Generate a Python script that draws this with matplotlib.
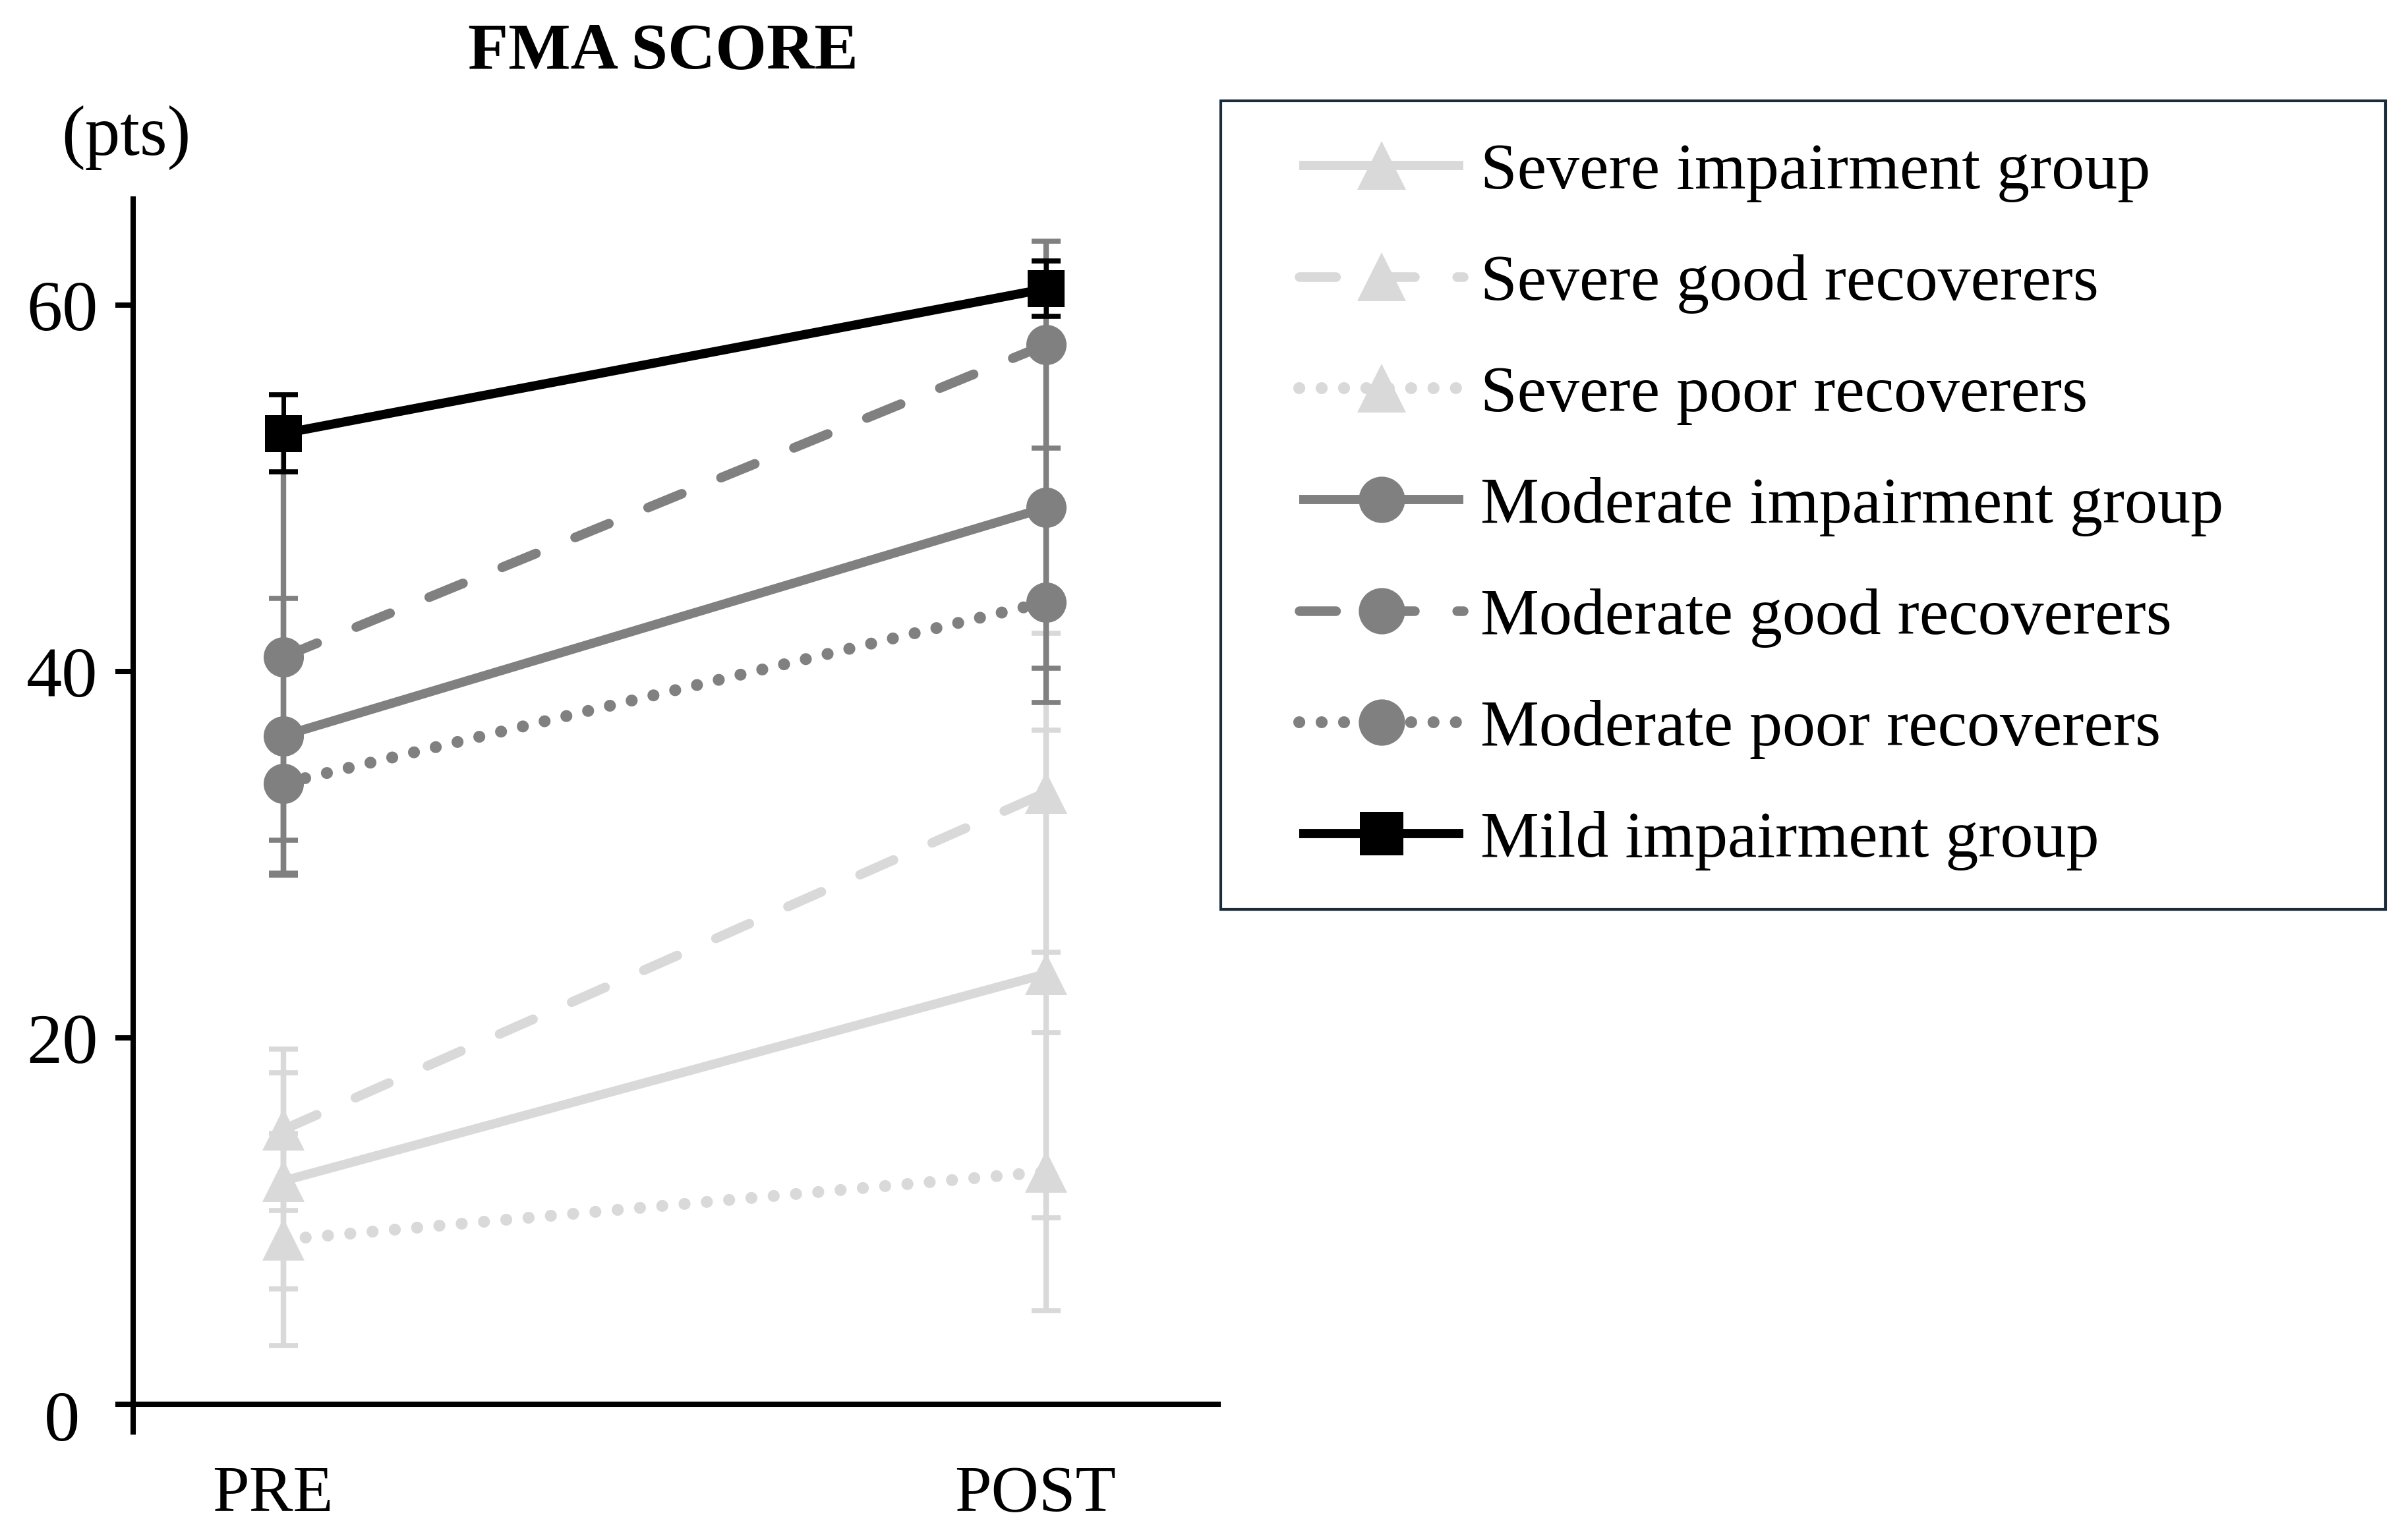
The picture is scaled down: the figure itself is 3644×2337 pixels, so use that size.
import matplotlib
matplotlib.use("Agg")
import matplotlib.pyplot as plt
from matplotlib.patches import Rectangle
from matplotlib.transforms import ScaledTranslation

# ---------------- data ----------------
conditions = ["PRE", "POST"]
series_labels = [
    "Severe impairment group",
    "Severe good recoverers",
    "Severe poor recoverers",
    "Moderate impairment group",
    "Moderate good recoverers",
    "Moderate poor recoverers",
    "Mild impairment group",
]
severe_group_mean = [12.2, 23.5]
severe_group_sd = [5.9, 13.3]
severe_good_mean = [15.0, 33.4]
severe_good_sd = [4.4, 8.7]
severe_poor_mean = [9.0, 12.7]
severe_poor_sd = [5.8, 7.6]
moderate_group_mean = [36.5, 48.95]
moderate_group_sd = [7.5, 8.75]
moderate_good_mean = [40.8, 57.85]
moderate_good_sd = [11.9, 5.65]
moderate_poor_mean = [33.9, 43.8]
moderate_poor_sd = [3.1, 5.5]
mild_mean = [53.0, 60.9]
mild_sd = [2.1, 1.5]
y_ticks = [0, 20, 40, 60]

# ---------------- style ----------------
plt.rcParams['font.family'] = ['Liberation Serif', 'DejaVu Serif']
LIGHT = '#D9D9D9'
MID = '#808080'
DARK = '#000000'
SOLID = '-'
DASHED = (0, (3.8, 4.4))
DOTTED = (0, (0.01, 1.87))

series = [
    (severe_group_mean, severe_group_sd, LIGHT, SOLID, '^', 46, 10),
    (severe_good_mean, severe_good_sd, LIGHT, DASHED, '^', 46, 10.5),
    (severe_poor_mean, severe_poor_sd, LIGHT, DOTTED, '^', 46, 13),
    (moderate_group_mean, moderate_group_sd, MID, SOLID, 'o', 44, 10),
    (moderate_good_mean, moderate_good_sd, MID, DASHED, 'o', 44, 10.5),
    (moderate_poor_mean, moderate_poor_sd, MID, DOTTED, 'o', 44, 13),
    (mild_mean, mild_sd, DARK, SOLID, 's', 41, 10),
]

fig = plt.figure(figsize=(36.44, 23.37), dpi=100)
ax = fig.add_axes([0.0554, 0.0702, 0.4528, 0.8006])
x = list(range(len(conditions)))

handles = []
for i, (m, s, c, ls, mk, ms, lw) in enumerate(series):
    z = 2 + i
    elw = 5 if c == DARK else 6
    ax.errorbar(x, m, yerr=s, fmt='none', ecolor=c, elinewidth=elw,
                capsize=16, capthick=5.5, zorder=z)
    ln, = ax.plot(x, m, color=c, linestyle=ls, linewidth=lw, marker=mk,
                  markersize=ms, markerfacecolor=c, markeredgecolor=c,
                  markeredgewidth=0, dash_capstyle='round',
                  solid_capstyle='butt', zorder=z + 0.5,
                  label=series_labels[i])
    handles.append(ln)

ax.set_xlim(-0.197, 1.229)
ax.set_ylim(-1.5, 65.8)
ax.set_xticks(x)
ax.set_xticklabels(conditions)
ax.set_yticks(y_ticks)
ax.set_yticklabels(['' if v == 0 else str(v) for v in y_ticks])
ax.annotate(str(y_ticks[0]), xy=(0, 0), xycoords=ax.get_yaxis_transform(),
            xytext=(-58, -21), textcoords='offset points',
            ha='right', va='center', fontsize=78)

for sp in ['top', 'right', 'bottom']:
    ax.spines[sp].set_visible(False)
ax.spines['left'].set_linewidth(5.8)
ax.axhline(0, color='k', linewidth=5.8, zorder=1)
ax.tick_params(axis='y', length=19.5, width=5.8, pad=19, labelsize=78,
               direction='out')
ax.tick_params(axis='x', length=0, pad=37, labelsize=72)
for lbl in ax.get_xticklabels():
    lbl.set_transform(lbl.get_transform() +
                      ScaledTranslation(-0.16, 0, fig.dpi_scale_trans))

# titles
fig.text(0.276, 0.966, "FMA SCORE", ha='center', va='center',
         fontsize=72, fontweight='bold')
fig.text(0.0524, 0.9106, "(pts)", ha='center', va='center', fontsize=77)

# legend
fig.patches.append(Rectangle((0.5082, 0.4095), 0.4849, 0.525,
                             transform=fig.transFigure, fill=False,
                             edgecolor='#1C2B3A', linewidth=3))
fig.legend(handles=handles, loc='upper left',
           bbox_to_anchor=(0.5409, 0.9075), bbox_transform=fig.transFigure,
           frameon=False, fontsize=72, handlelength=2.49,
           handletextpad=0.26, labelspacing=0.78, borderpad=0,
           borderaxespad=0, numpoints=1, markerscale=1.15)

fig.savefig("out.png", dpi=100)
